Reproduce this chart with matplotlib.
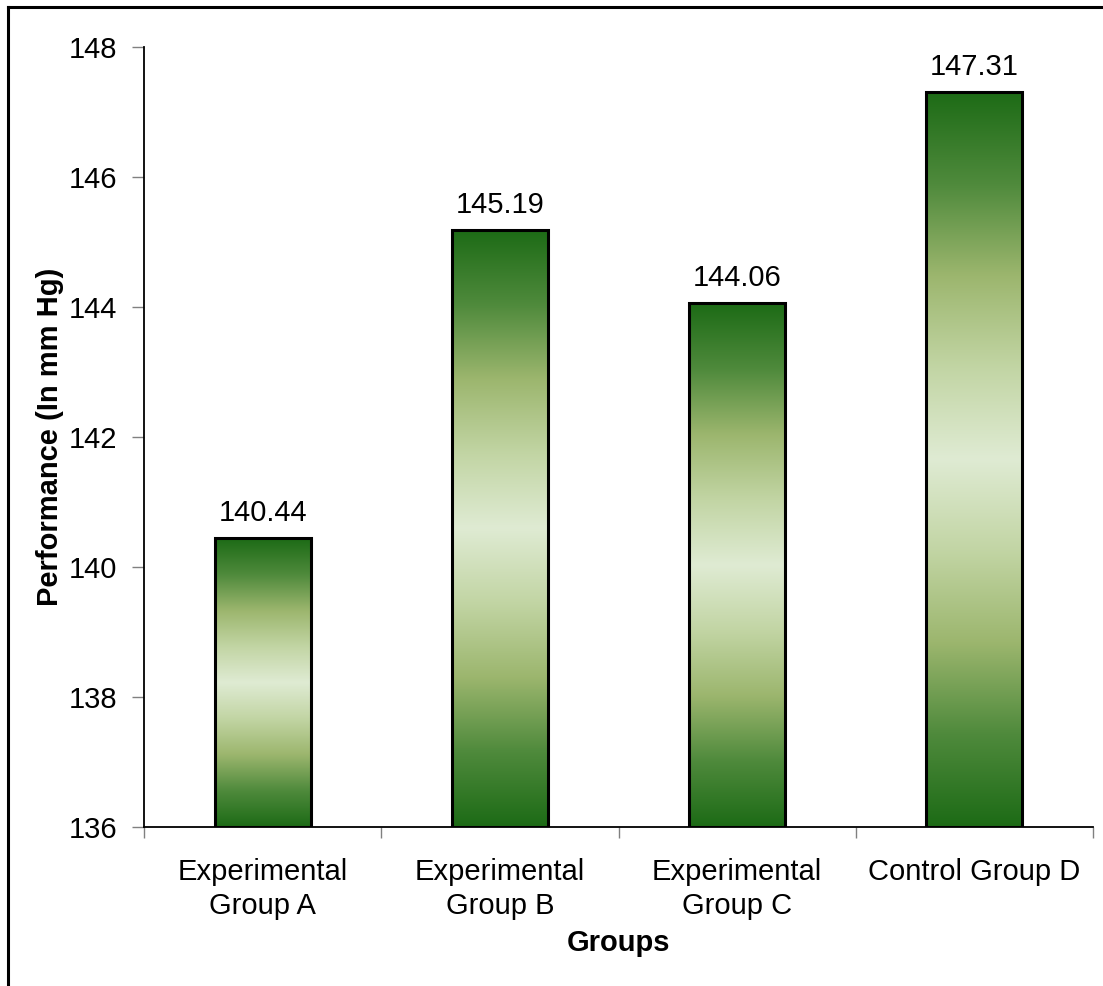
import numpy as np
import matplotlib
matplotlib.use("Agg")
import matplotlib.pyplot as plt
from matplotlib.colors import LinearSegmentedColormap
from matplotlib.lines import Line2D

# data
groups = ["Experimental\nGroup A", "Experimental\nGroup B",
          "Experimental\nGroup C", "Control Group D"]
values = [140.44, 145.19, 144.06, 147.31]
y_ticks = [136, 138, 140, 142, 144, 146, 148]

plt.rcParams['font.family'] = ['Liberation Sans', 'DejaVu Sans']

fig = plt.figure(figsize=(11.03, 9.86), dpi=100)
ax = fig.add_axes([144 / 1103, 1 - 827 / 986, (1093 - 144) / 1103, (827 - 47) / 986])

# dark at both ends, light in the middle of every bar
half = ["#1d6b16", "#4f8a3c", "#9cb66e", "#c2d5a4", "#dfebd3"]
cmap = LinearSegmentedColormap.from_list("greens", half + half[::-1][1:])
grad = np.linspace(0, 1, 256).reshape(-1, 1)

x = np.arange(len(groups))
width = 0.405
ymin = y_ticks[0]
bars = ax.bar(x, np.array(values) - ymin, width, bottom=ymin,
              facecolor="none", edgecolor="black", linewidth=2.2, zorder=3)
for bar, v in zip(bars, values):
    x0 = bar.get_x()
    im = ax.imshow(grad, cmap=cmap, aspect="auto", origin="lower",
                   extent=(x0, x0 + bar.get_width(), ymin, v), zorder=2,
                   interpolation="bicubic")
    im.set_clip_path(bar)
    ax.text(bar.get_x() + bar.get_width() / 2, v + 0.17, f"{v:.2f}",
            ha="center", va="bottom", fontsize=21)

ax.set_xlim(-0.5, len(groups) - 0.5)
ax.set_ylim(ymin, y_ticks[-1])
ax.set_yticks(y_ticks)
ax.set_yticklabels([str(t) for t in y_ticks], fontsize=21)
ax.tick_params(axis="y", length=9, width=1, color="#808080", pad=10)

ax.set_xticks(np.arange(-0.5, len(groups), 1.0))
ax.set_xticklabels([])
ax.set_xticks(x, minor=True)
ax.set_xticklabels(groups, minor=True, fontsize=21, linespacing=1.3)
ax.tick_params(axis="x", which="major", length=8, width=1, color="#808080")
ax.tick_params(axis="x", which="minor", length=0, pad=22)

for side in ["top", "right"]:
    ax.spines[side].set_visible(False)
for side in ["left", "bottom"]:
    ax.spines[side].set_linewidth(1.3)

ax.set_ylabel("Performance (In mm Hg)", fontsize=21, fontweight="bold")
ax.yaxis.set_label_coords(-0.084, 0.5)
fig.text(618 / 1103, 1 - 943 / 986, "Groups", fontsize=21, fontweight="bold",
         ha="center", va="center")

# outer frame: only top and left edges
fig.add_artist(Line2D([8 / 1103, 8 / 1103], [0, 1 - 7 / 986], color="black",
                      linewidth=2.2, transform=fig.transFigure))
fig.add_artist(Line2D([8 / 1103, 1], [1 - 7 / 986, 1 - 7 / 986], color="black",
                      linewidth=2.2, transform=fig.transFigure))

fig.savefig("out.png", dpi=100)
